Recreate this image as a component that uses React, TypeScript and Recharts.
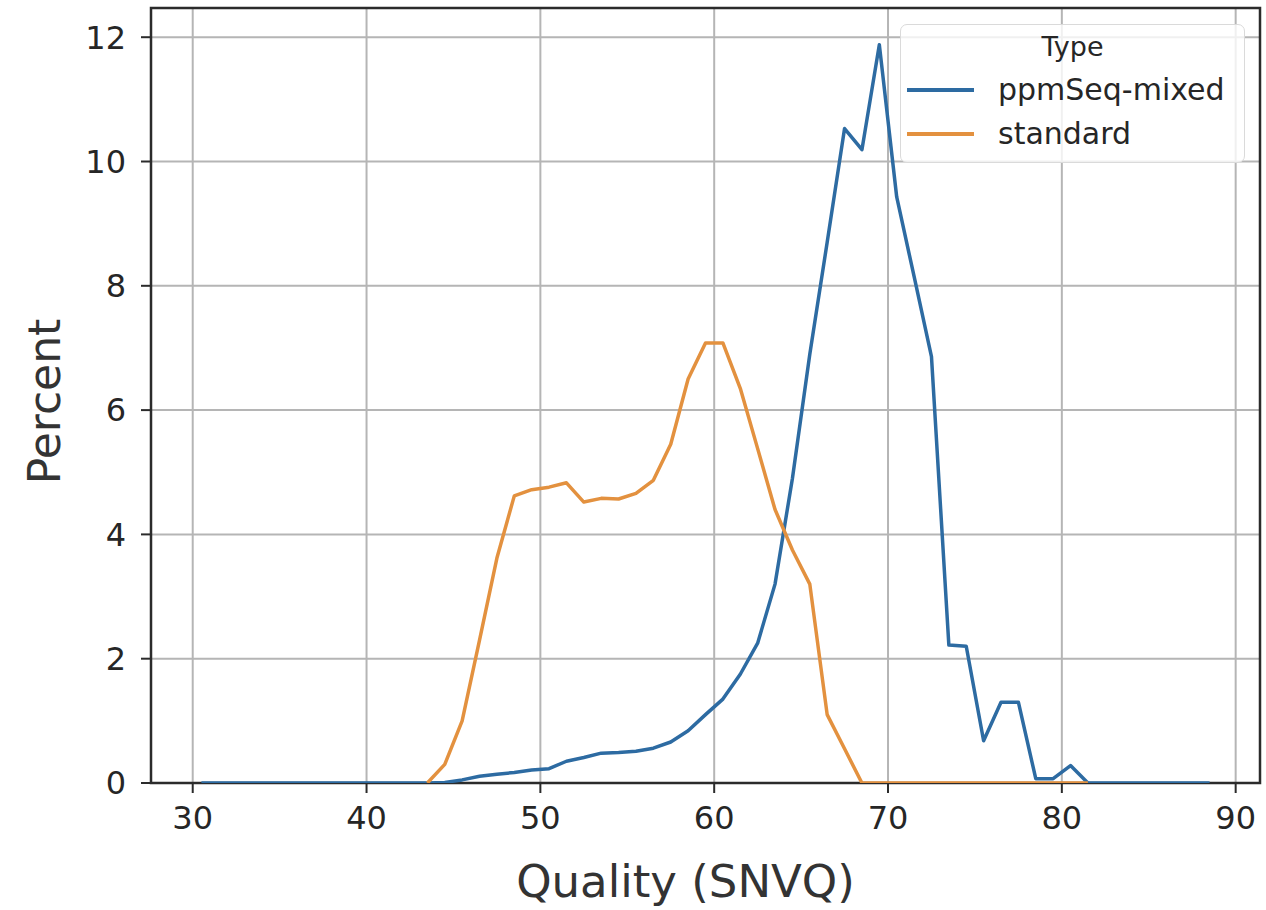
import { LineChart, Line, XAxis, YAxis, CartesianGrid, ReferenceArea, Legend } from 'recharts';

// bin centres of the SNVQ histogram
const quality = [
  30.5, 31.5, 32.5, 33.5, 34.5, 35.5, 36.5, 37.5, 38.5, 39.5,
  40.5, 41.5, 42.5, 43.5, 44.5, 45.5, 46.5, 47.5, 48.5, 49.5,
  50.5, 51.5, 52.5, 53.5, 54.5, 55.5, 56.5, 57.5, 58.5, 59.5,
  60.5, 61.5, 62.5, 63.5, 64.5, 65.5, 66.5, 67.5, 68.5, 69.5,
  70.5, 71.5, 72.5, 73.5, 74.5, 75.5, 76.5, 77.5, 78.5, 79.5,
  80.5, 81.5, 82.5, 83.5, 84.5, 85.5, 86.5, 87.5, 88.5,
];

// percent of SNVs per bin
const ppmSeqMixed = [
  0, 0, 0, 0, 0, 0, 0, 0, 0, 0,
  0, 0, 0, 0, 0.01, 0.05, 0.11, 0.14, 0.17, 0.21,
  0.23, 0.35, 0.41, 0.48, 0.49, 0.51, 0.56, 0.66, 0.84, 1.1,
  1.35, 1.75, 2.25, 3.2, 4.9, 6.9, 8.7, 10.53, 10.19, 11.88,
  9.43, 8.15, 6.86, 2.22, 2.2, 0.68, 1.3, 1.3, 0.07, 0.07,
  0.28, 0, 0, 0, 0, 0, 0, 0, 0,
];

const standard = [
  null, null, null, null, null, null, null, null, null, null,
  null, null, null, 0, 0.3, 1.0, 2.3, 3.62, 4.62, 4.72,
  4.76, 4.83, 4.52, 4.58, 4.57, 4.66, 4.87, 5.45, 6.5, 7.08,
  7.08, 6.35, 5.38, 4.4, 3.75, 3.2, 1.1, 0.55, 0, 0,
  0, 0, 0, 0, 0, 0, 0, 0, 0, 0,
  0, 0, null, null, null, null, null, null, null,
];

const xTicks = [30, 40, 50, 60, 70, 80, 90];
const yTicks = [0, 2, 4, 6, 8, 10, 12];
const seriesNames = ['ppmSeq-mixed', 'standard'];
const legendTitle = 'Type';
const xTitle = 'Quality (SNVQ)';
const yTitle = 'Percent';

const X_DOMAIN: [number, number] = [27.6, 91.4];
const Y_DOMAIN: [number, number] = [0, 12.47];
const BLUE = '#2d6ba2';
const ORANGE = '#e3913f';
const INK = '#262626';
const FONT = '"DejaVu Sans", sans-serif';

const rows = quality.map((q, i) => ({ quality: q, mixed: ppmSeqMixed[i], standard: standard[i] }));

function TypeLegend() {
  const items = [
    { name: seriesNames[0], color: BLUE },
    { name: seriesNames[1], color: ORANGE },
  ];
  return (
    <div
      style={{
        position: 'relative',
        width: 345,
        height: 139,
        boxSizing: 'border-box',
        border: '1.5px solid #dadada',
        borderRadius: 7,
        background: 'rgba(255,255,255,0.8)',
        fontFamily: FONT,
        color: INK,
      }}
    >
      <div style={{ position: 'absolute', left: 0, right: 0, top: 5, textAlign: 'center', fontSize: 27, lineHeight: '34px' }}>
        {legendTitle}
      </div>
      {items.map((it, i) => (
        <div
          key={it.name}
          style={{ position: 'absolute', left: 6, top: 47 + i * 44, height: 36, display: 'flex', alignItems: 'center' }}
        >
          <span style={{ display: 'inline-block', width: 67, height: 3.5, background: it.color }} />
          <span style={{ marginLeft: 24, fontSize: 30, lineHeight: '36px', whiteSpace: 'nowrap' }}>{it.name}</span>
        </div>
      ))}
    </div>
  );
}

export default function App() {
  return (
    <div style={{ position: 'absolute', left: 0, top: 0, background: '#fff' }}>
      <LineChart width={1266} height={910} data={rows} margin={{ top: 8, right: 6, left: 0, bottom: 0 }}>
        <CartesianGrid stroke="#b5b5b5" strokeWidth={2} />
        <XAxis
          dataKey="quality"
          type="number"
          domain={X_DOMAIN}
          ticks={xTicks}
          allowDataOverflow
          height={127}
          axisLine={false}
          tickSize={10}
          tickMargin={13}
          tickLine={{ stroke: '#2b2b2b', strokeWidth: 2 }}
          tick={{ fontSize: 32, fill: INK, fontFamily: FONT }}
          label={{
            value: xTitle,
            content: ({ viewBox }: any) => (
              <text
                x={viewBox.x + viewBox.width / 2 - 20}
                y={viewBox.y + 114}
                textAnchor="middle"
                fontSize={45}
                fill="#333"
                fontFamily={FONT}
              >
                {xTitle}
              </text>
            ),
          }}
        />
        <YAxis
          type="number"
          domain={Y_DOMAIN}
          ticks={yTicks}
          allowDataOverflow
          width={151}
          axisLine={false}
          tickSize={10}
          tickMargin={15}
          tickLine={{ stroke: '#2b2b2b', strokeWidth: 2 }}
          tick={{ fontSize: 32, fill: INK, fontFamily: FONT }}
          label={{
            value: yTitle,
            content: ({ viewBox }: any) => {
              const cx = 60;
              const cy = viewBox.y + viewBox.height / 2 + 6;
              return (
                <text
                  x={cx}
                  y={cy}
                  transform={`rotate(-90, ${cx}, ${cy})`}
                  textAnchor="middle"
                  fontSize={44}
                  fill="#333"
                  fontFamily={FONT}
                >
                  {yTitle}
                </text>
              );
            },
          }}
        />
        {/* axes frame */}
        <ReferenceArea
          x1={X_DOMAIN[0]}
          x2={X_DOMAIN[1]}
          y1={Y_DOMAIN[0]}
          y2={Y_DOMAIN[1]}
          fill="none"
          stroke="#2b2b2b"
          strokeWidth={2.5}
          ifOverflow="visible"
        />
        <Line
          dataKey="mixed"
          name={seriesNames[0]}
          type="linear"
          stroke={BLUE}
          strokeWidth={3.5}
          strokeLinejoin="round"
          dot={false}
          activeDot={false}
          isAnimationActive={false}
        />
        <Line
          dataKey="standard"
          name={seriesNames[1]}
          type="linear"
          stroke={ORANGE}
          strokeWidth={3.5}
          strokeLinejoin="round"
          dot={false}
          activeDot={false}
          isAnimationActive={false}
        />
        <Legend
          layout="horizontal"
          verticalAlign="middle"
          align="center"
          content={<TypeLegend />}
          wrapperStyle={{ top: 24, left: 900, width: 345, bottom: 'auto', right: 'auto' }}
        />
      </LineChart>
    </div>
  );
}
